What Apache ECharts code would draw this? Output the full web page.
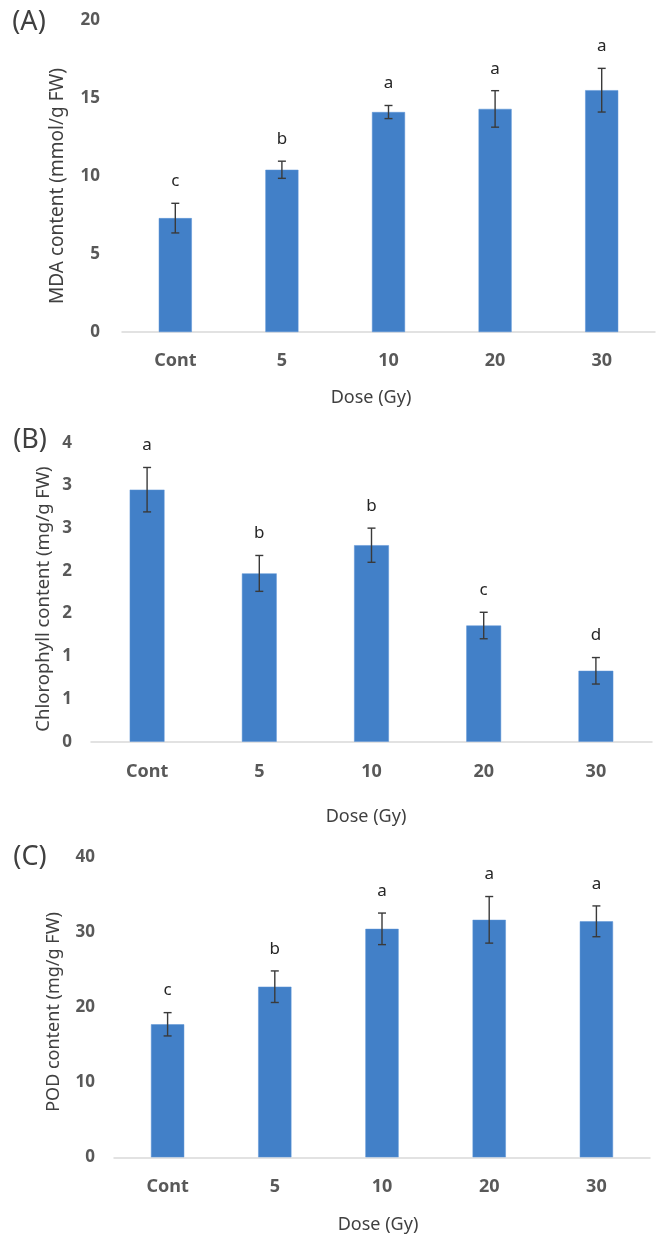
<!DOCTYPE html>
<html>
<head>
<meta charset="utf-8">
<script src="https://cdn.jsdelivr.net/npm/echarts@6/dist/echarts.min.js"></script>
<style>
html,body{margin:0;padding:0;background:#fff;}
#c{width:660px;height:1239px;}
</style>
</head>
<body>
<div id="c"></div>
<script>
const categories = ['Cont', '5', '10', '20', '30'];

const mdaValues = [7.3, 10.4, 14.1, 14.3, 15.5];
const mdaErrors = [0.95, 0.55, 0.42, 1.17, 1.4];
const mdaLetters = ['c', 'b', 'a', 'a', 'a'];
const mdaTicks = ['0', '5', '10', '15', '20'];

const chlValues = [2.95, 1.97, 2.30, 1.36, 0.83];
const chlErrors = [0.26, 0.21, 0.20, 0.155, 0.155];
const chlLetters = ['a', 'b', 'b', 'c', 'd'];
const chlTicks = ['0', '1', '1', '2', '2', '3', '3', '4'];

const podValues = [17.7, 22.7, 30.4, 31.6, 31.4];
const podErrors = [1.55, 2.1, 2.1, 3.1, 2.05];
const podLetters = ['c', 'b', 'a', 'a', 'a'];
const podTicks = ['0', '10', '20', '30', '40'];

const FONT = '"Noto Sans", "Open Sans", sans-serif';
const BAR = '#4280C8';
const TICK = '#595959';
const DARK = '#404040';

function errSeries(idx, values, errors, letters) {
  return {
    type: 'custom',
    xAxisIndex: idx, yAxisIndex: idx,
    clip: false, silent: true, z: 5,
    encode: { x: 0, y: 1 },
    data: values.map((v, i) => [i, v, errors[i]]),
    renderItem: function (params, api) {
      const x = api.value(0), y = api.value(1), e = api.value(2);
      const t = api.coord([x, y + e]);
      const b = api.coord([x, y - e]);
      const cap = 4;
      const st = { stroke: '#3a3a3a', lineWidth: 1.4 };
      return {
        type: 'group',
        children: [
          { type: 'line', shape: { x1: t[0], y1: t[1], x2: b[0], y2: b[1] }, style: st },
          { type: 'line', shape: { x1: t[0] - cap, y1: t[1], x2: t[0] + cap, y2: t[1] }, style: st },
          { type: 'line', shape: { x1: b[0] - cap, y1: b[1], x2: b[0] + cap, y2: b[1] }, style: st },
          { type: 'text', style: { text: letters[params.dataIndex], x: t[0], y: t[1] - 22,
              align: 'center', verticalAlign: 'middle', fontSize: 17, fontFamily: FONT, fill: '#262626' } }
        ]
      };
    }
  };
}

function xAx(idx, margin) {
  return {
    type: 'category', gridIndex: idx, data: categories,
    axisLine: { lineStyle: { color: '#d9d9d9', width: 1.5 } },
    axisTick: { show: false },
    axisLabel: { margin: margin, fontSize: 18, fontWeight: 'bold', color: TICK, fontFamily: FONT }
  };
}
function yAx(idx, max, interval, ticks, margin) {
  return {
    type: 'value', gridIndex: idx, min: 0, max: max, interval: interval,
    splitLine: { show: false },
    axisLine: { show: false }, axisTick: { show: false },
    axisLabel: { margin: margin, fontSize: 17, fontWeight: 'bold', color: TICK, fontFamily: FONT,
      formatter: function (v) { return ticks[Math.round(v / interval)]; } }
  };
}
function barSeries(idx, values) {
  return { type: 'bar', xAxisIndex: idx, yAxisIndex: idx, data: values, barWidth: '31%',
    itemStyle: { color: BAR, borderColor: '#5a93d6', borderWidth: 0.5 }, silent: true };
}
function txt(text, x, y, size, rotate) {
  return { type: 'text', x: x, y: y, rotation: rotate ? Math.PI / 2 : 0,
    style: { text: text, fontSize: size, fontFamily: FONT, fill: DARK, align: 'center', verticalAlign: 'middle' } };
}

const chart = echarts.init(document.getElementById('c'), null, { renderer: 'canvas' });
chart.setOption({
  animation: false,
  backgroundColor: '#fff',
  grid: [
    { left: 122, right: 5, top: 20, height: 312 },
    { left: 91, right: 8, top: 442.7, height: 299 },
    { left: 114, right: 10, top: 856.7, height: 300.6 }
  ],
  xAxis: [xAx(0, 20), xAx(1, 21), xAx(2, 21)],
  yAxis: [yAx(0, 20, 5, mdaTicks, 22), yAx(1, 3.5, 0.5, chlTicks, 19), yAx(2, 40, 10, podTicks, 19)],
  series: [
    barSeries(0, mdaValues), errSeries(0, mdaValues, mdaErrors, mdaLetters),
    barSeries(1, chlValues), errSeries(1, chlValues, chlErrors, chlLetters),
    barSeries(2, podValues), errSeries(2, podValues, podErrors, podLetters)
  ],
  graphic: [
    txt('(A)', 29, 22, 27), txt('(B)', 30, 440, 27), txt('(C)', 30, 857, 27),
    txt('MDA content (mmol/g FW)', 58, 186, 19, true),
    txt('Chlorophyll content (mg/g FW)', 44, 599, 18.5, true),
    txt('POD content (mg/g FW)', 54, 1012, 18, true),
    txt('Dose (Gy)', 371, 398, 18), txt('Dose (Gy)', 366, 817, 18), txt('Dose (Gy)', 378, 1225, 18)
  ]
});
</script>
</body>
</html>
